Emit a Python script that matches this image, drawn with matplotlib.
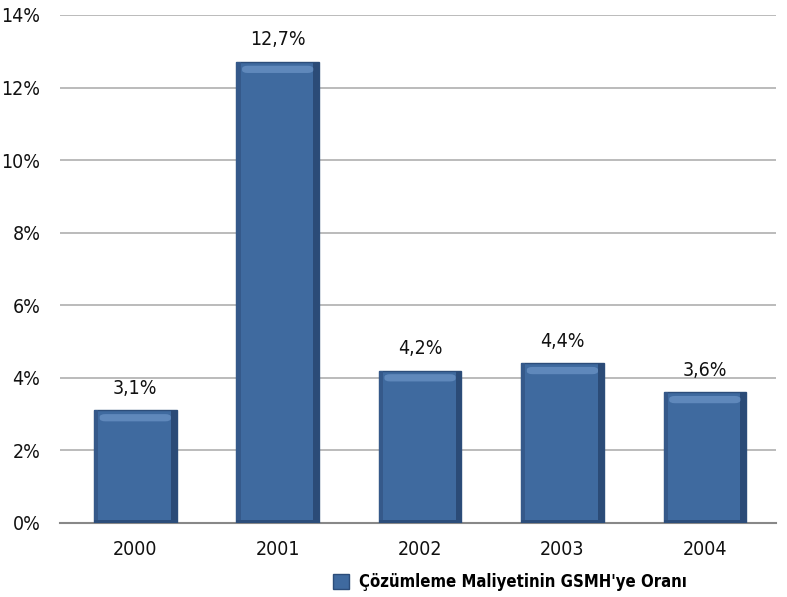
import matplotlib.pyplot as plt
from matplotlib.font_manager import fontManager
from matplotlib.patches import FancyBboxPatch

years = ['2000', '2001', '2002', '2003', '2004']
ratio = [3.1, 12.7, 4.2, 4.4, 3.6]
value_labels = ['3,1%', '12,7%', '4,2%', '4,4%', '3,6%']
yticks = [0, 2, 4, 6, 8, 10, 12, 14]
series_name = "Çözümleme Maliyetinin GSMH'ye Oranı"

# pick a condensed face if one is installed
family = 'DejaVu Sans'
for f in fontManager.ttflist:
    tag = (f.fname + f.name).lower()
    if 'narrow' in tag or 'condensed' in tag or str(f.stretch).endswith('condensed'):
        family = f.name
        break
plt.rcParams['font.family'] = [family, 'DejaVu Sans']
plt.rcParams['font.stretch'] = 'condensed'

fig = plt.figure(figsize=(7.87, 5.97), dpi=100)
ax = fig.add_axes([0.076, 0.124, 0.91, 0.851])

x = list(range(len(years)))
w = 0.58
bars = ax.bar(x, ratio, width=w, color='#3f6a9f', edgecolor='#2c4d7a',
              linewidth=1.0, zorder=3, label=series_name)

# bevel: shaded sides and a soft light strip under the top edge
for xi, v in zip(x, ratio):
    ax.bar(xi - w / 2 + 0.015, v, width=0.03, color='#35598a', zorder=4, linewidth=0)
    ax.bar(xi + w / 2 - 0.02, v, width=0.04, color='#2b4b77', zorder=4, linewidth=0)
    ax.add_patch(FancyBboxPatch((xi - w / 2 + 0.04, v - 0.3), w - 0.08, 0.2,
                                boxstyle='round,pad=0,rounding_size=0.04',
                                facecolor='#5f88bb', edgecolor='none', zorder=5,
                                mutation_aspect=2.0))
    ax.bar(xi, 0.07, width=w, color='#2c4d7a', zorder=4, linewidth=0)

for xi, v, t in zip(x, ratio, value_labels):
    ax.text(xi, v + 0.35, t, ha='center', va='bottom', fontsize=14, color='#111111')

ax.set_xlim(-0.53, 4.5)
ax.set_ylim(0, 14)
ax.set_yticks(yticks)
ax.set_yticklabels([f'{t}%' for t in yticks], fontsize=14, color='#111111')
ax.set_xticks(x)
ax.set_xticklabels(years, fontsize=14, color='#111111')
ax.tick_params(length=0)
ax.tick_params(axis='y', pad=14)
ax.tick_params(axis='x', pad=12)
ax.grid(axis='y', color='#b5b5b5', linewidth=1.3, zorder=0)
for s in ['top', 'right', 'left']:
    ax.spines[s].set_visible(False)
ax.spines['bottom'].set_color('#888888')
ax.spines['bottom'].set_linewidth(1.5)

fig.legend(handles=[bars], labels=[series_name], loc='center',
           bbox_to_anchor=(0.648, 0.025), frameon=False,
           prop={'size': 12, 'weight': 'bold'}, handlelength=1.0,
           handleheight=1.0, handletextpad=0.6, borderpad=0)

fig.savefig('out.png', dpi=100)
